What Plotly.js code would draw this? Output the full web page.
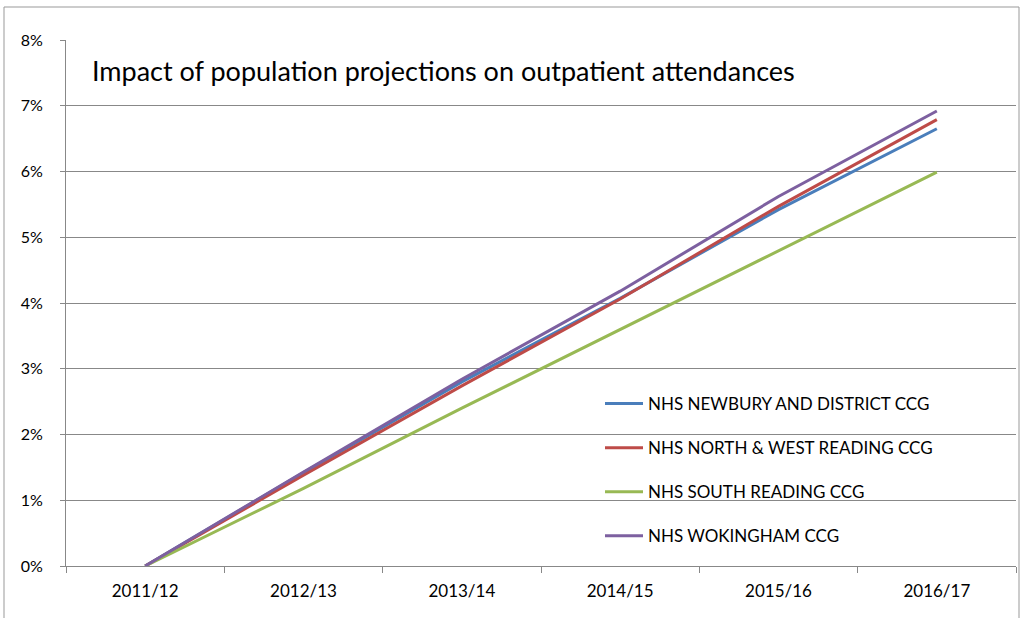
<!DOCTYPE html>
<html>
<head>
<meta charset="utf-8">
<script src="https://cdn.plot.ly/plotly-3.0.1.min.js"></script>
<style>html,body{margin:0;padding:0;background:#fff;}#chart{width:1023px;height:618px;}</style>
</head>
<body>
<div id="chart"></div>
<script>
const years = ["2011/12", "2012/13", "2013/14", "2014/15", "2015/16", "2016/17"];
const newbury = [0, 0.0142, 0.0280, 0.0407, 0.0542, 0.0665];
const northWest = [0, 0.0138, 0.0274, 0.0406, 0.0547, 0.0679];
const southReading = [0, 0.0118, 0.0240, 0.0360, 0.0479, 0.0599];
const wokingham = [0, 0.0143, 0.0284, 0.0418, 0.0562, 0.0692];
const seriesNames = ["NHS NEWBURY AND DISTRICT CCG", "NHS NORTH & WEST READING CCG", "NHS SOUTH READING CCG", "NHS WOKINGHAM CCG"];
const seriesColors = ["#4A7EBB", "#BE4B48", "#98B954", "#7D60A0"];
const yTickVals = [0, 0.01, 0.02, 0.03, 0.04, 0.05, 0.06, 0.07, 0.08];
const yTickText = ["0%", "1%", "2%", "3%", "4%", "5%", "6%", "7%", "8%"];
const titleText = "Impact of population projections on outpatient attendances";

const allSeries = [newbury, northWest, southReading, wokingham];
const traces = allSeries.map((vals, i) => ({
  x: years, y: vals, type: "scatter", mode: "lines",
  name: seriesNames[i], legendgroup: "g" + i,
  line: {color: seriesColors[i], width: 3}
}));

const font = "Lato, 'Open Sans', sans-serif";
const layout = {
  width: 1023, height: 618,
  margin: {l: 66, r: 7, t: 40, b: 52},
  paper_bgcolor: "#fff", plot_bgcolor: "#fff",
  font: {family: font, color: "#000"},
  title: {text: titleText, x: 92/1023, xanchor: "left", xref: "container",
          y: 1 - 72/618, yanchor: "middle", yref: "container",
          font: {family: font, size: 27, color: "#000"}},
  xaxis: {type: "category", range: [-0.5, 5.5], tickson: "boundaries",
          ticks: "outside", ticklen: 6, tickcolor: "#888",
          showline: true, linecolor: "#888", linewidth: 1,
          showgrid: false, zeroline: false, ticklabelstandoff: 10,
          tickfont: {family: font, size: 17, color: "#000"}},
  yaxis: {range: [0, 0.08], tickvals: yTickVals, ticktext: yTickText,
          ticks: "outside", ticklen: 5, tickcolor: "#888",
          showline: true, linecolor: "#888", linewidth: 1,
          showgrid: true, gridcolor: "#888", gridwidth: 1, zeroline: false,
          ticklabelstandoff: 14,
          tickfont: {family: font, size: 16, color: "#000"}},
  showlegend: true,
  legend: {x: (600-66)/950, xanchor: "left", y: (566-386)/526, yanchor: "top",
           bgcolor: "rgba(0,0,0,0)", traceorder: "grouped", tracegroupgap: 19,
           font: {family: font, size: 17, color: "#000"}, itemwidth: 38},
  shapes: [{type: "rect", xref: "paper", yref: "paper",
            x0: -62/950, x1: 1019/950 - 66/950, y0: -0.2, y1: (566-7)/526,
            line: {color: "#999", width: 1}, fillcolor: "rgba(0,0,0,0)", layer: "below"}]
};
Plotly.newPlot("chart", traces, layout, {displayModeBar: false, staticPlot: true});
</script>
</body>
</html>
